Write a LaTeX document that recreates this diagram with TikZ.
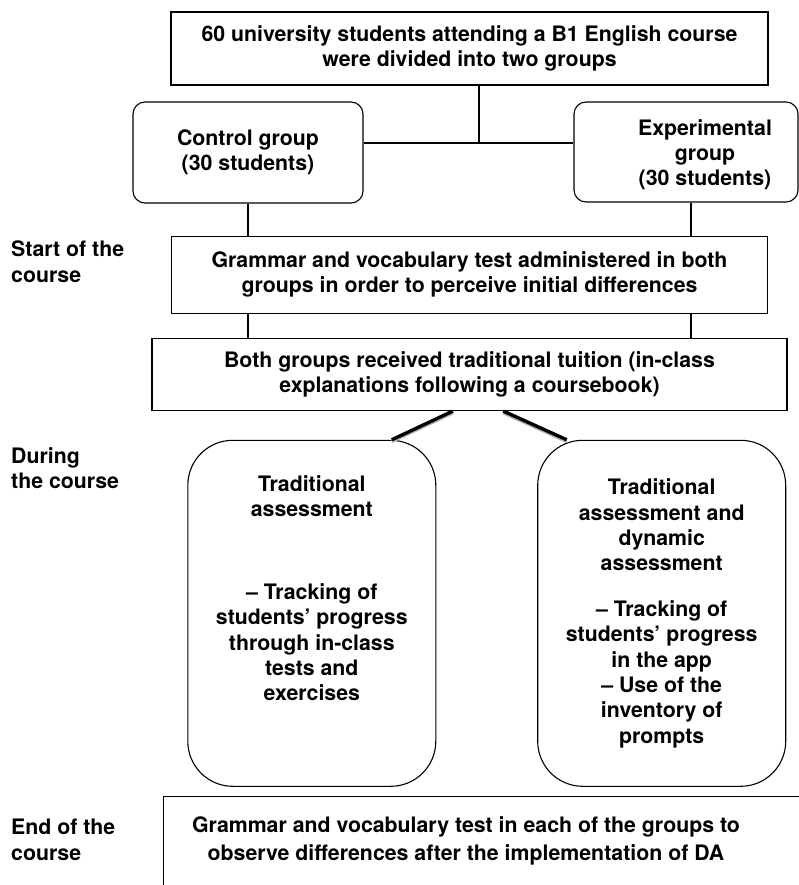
\documentclass[tikz,border=0pt]{standalone}
\usepackage{fontspec}
\setmainfont{TeX Gyre Heros}
\usetikzlibrary{positioning}

\begin{document}
\begin{tikzpicture}[
  x=1pt, y=-1pt,
  font=\fontsize{21.3}{25.3}\selectfont\bfseries,
  box/.style={draw=black, line width=1.1pt, align=center, inner sep=0pt},
  grp/.style={box, rounded corners=12pt},
  assess/.style={box, rounded corners=45pt, minimum width=248pt,
                 minimum height=346pt},
  txt/.style={align=center, inner sep=0pt},
  phase/.style={anchor=north west, align=left, inner sep=0pt},
  link/.style={line width=1.1pt},
  fork/.style={line width=3.4pt},
  forkshade/.style={line width=3.4pt, draw=black!30},
]
\useasboundingbox (0,0) rectangle (799,885);

% phases on the left
\node[phase] (start) at (11,241) {Start of the\\course};
\node[phase] (during) at (11,447) {During\\the course};
\node[phase] (end) at (11,819) {End of the\\course};

% main chain
\node[box, minimum width=597pt, minimum height=73pt] (top) at (469.5,48.5)
  {60 university students attending a B1 English course\\were divided into two groups};
\node[grp, minimum width=230pt, minimum height=101pt] (ctrl) at (248,152.5)
  {Control group\\(30 students)};
\node[grp, minimum width=224pt, minimum height=100pt] (exp) at (686,152) {};
\node[txt] (exptxt) at (705,154.6) {Experimental\\group\\(30 students)};
\node[box, minimum width=596pt, minimum height=77pt, below=150pt of top] (test)
  {Grammar and vocabulary test administered in both\\groups in order to perceive initial differences};
\node[box, minimum width=635pt, minimum height=72pt, below=24.3pt of test] (tuition)
  {Both groups received traditional tuition (in-class\\explanations following a coursebook)};

% assessment during the course
\node[assess, below=28.7pt of tuition, xshift=-157.7pt] (tradA)
  {Traditional\\assessment\\[58pt]
   -- Tracking of\\students’ progress\\through in-class\\tests and\\exercises\\[25.3pt]\mbox{}};
\node[assess, below=28.7pt of tuition, xshift=192.2pt] (dynA)
  {Traditional\\assessment and\\dynamic\\assessment\\[20.6pt]
   -- Tracking of\\students’ progress\\in the app\\-- Use of the\\inventory of\\prompts};

% final test, runs off the page
\node[box, anchor=north west, minimum width=700pt, minimum height=120pt] (endbox)
  at (163,796) {};
\node[txt, anchor=north] (endtxt) at (466,816.4)
  {Grammar and vocabulary test in each of the groups to\\[2.5pt]observe differences after the implementation of DA};

% connectors
\coordinate (split) at (479,143);
\draw[link] (top.south -| split) -- (split);
\draw[link] (ctrl.east |- split) -- (exp.west |- split);
\draw[link] (ctrl.south) -- (ctrl.south |- test.north);
\draw[link] (ctrl.south |- test.south) -- (ctrl.south |- tuition.north);
\draw[link] ([xshift=5pt]exp.south) -- ([xshift=5pt]exp.south |- test.north);
\draw[link] ([xshift=5pt]exp.south |- test.south)
  -- ([xshift=5pt]exp.south |- tuition.north);

\draw[forkshade] ([xshift=-16.6pt,yshift=-1.6pt]tuition.south)
  -- ([xshift=80pt,yshift=-1.6pt]tradA.north);
\draw[forkshade] ([xshift=33.7pt,yshift=-1.6pt]tuition.south)
  -- ([xshift=-95pt,yshift=-1.6pt]dynA.north);
\draw[fork] ([xshift=-16.6pt]tuition.south) -- ([xshift=80pt]tradA.north);
\draw[fork] ([xshift=33.7pt]tuition.south) -- ([xshift=-95pt]dynA.north);
\end{tikzpicture}
\end{document}
